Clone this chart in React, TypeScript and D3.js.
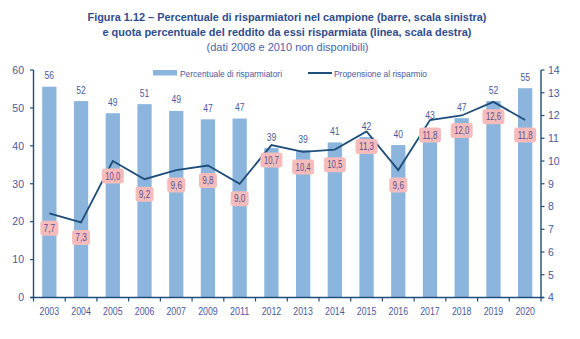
import React from "react";
import * as d3 from "d3";

const years = ["2003","2004","2005","2006","2007","2009","2011","2012","2013","2014","2015","2016","2017","2018","2019","2020"];
const savers = [55.6, 51.8, 48.6, 51.0, 49.2, 47.0, 47.2, 39.4, 38.9, 40.9, 42.3, 40.2, 43.0, 47.3, 51.8, 55.2];
const propensity = [7.7, 7.3, 10.0, 9.2, 9.6, 9.8, 9.0, 10.7, 10.4, 10.5, 11.3, 9.6, 11.8, 12.0, 12.6, 11.8];
const leftTicks = [0, 10, 20, 30, 40, 50, 60];
const rightTicks = [4, 5, 6, 7, 8, 9, 10, 11, 12, 13, 14];
const titleLines = [
  "Figura 1.12 – Percentuale di risparmiatori nel campione (barre, scala sinistra)",
  "e quota percentuale del reddito da essi risparmiata (linea, scala destra)",
];
const subtitle = "(dati 2008 e 2010 non disponibili)";
const legendBar = "Percentuale di risparmiatori";
const legendLine = "Propensione al risparmio";

const W = 580, H = 339;
const X0 = 33.5, X1 = 541, Y0 = 297.5, Y1 = 70;
const BAR = "#8cb5dd";
const NAVY = "#1f4e7a";
const TXT = "#4a5a9c";
const FONT = "Liberation Sans, Arial, sans-serif";

export default function App() {
  const x = d3.scaleBand<string>().domain(years).range([X0, X1]).paddingInner(0.55).paddingOuter(0.275);
  const yL = d3.scaleLinear().domain([0, 60]).range([Y0, Y1]);
  const yR = d3.scaleLinear().domain([4, 14]).range([Y0, Y1]);
  const step = x.step();
  const cx = (y: string) => (x(y) as number) + x.bandwidth() / 2;
  const line = d3.line<number>().x((_, i) => cx(years[i])).y((d) => yR(d));
  const boundaries = d3.range(years.length + 1).map((i) => X0 + i * step);
  const fmt = (v: number) => v.toFixed(1).replace(".", ",");

  return (
    <div style={{ position: "absolute", left: 0, top: 0 }}>
      <svg width={W} height={H} style={{ display: "block", background: "#fff" }} fontFamily={FONT}>
        {/* titles */}
        <text x={287} y={20.5} textAnchor="middle" fontSize={10.6} fontWeight="bold" fill="#2f4c8c" textLength={399} lengthAdjust="spacingAndGlyphs">{titleLines[0]}</text>
        <text x={287} y={36} textAnchor="middle" fontSize={10.6} fontWeight="bold" fill="#2f4c8c" textLength={369} lengthAdjust="spacingAndGlyphs">{titleLines[1]}</text>
        <text x={287.5} y={51} textAnchor="middle" fontSize={10.3} fill="#4a62a8" textLength={162} lengthAdjust="spacingAndGlyphs">{subtitle}</text>

        {/* legend */}
        <rect x={153} y={70} width={24} height={5.5} fill={BAR} />
        <text x={180} y={76.5} fontSize={9.2} fill={TXT} textLength={102} lengthAdjust="spacingAndGlyphs">{legendBar}</text>
        <line x1={308} x2={332} y1={73} y2={73} stroke={NAVY} strokeWidth={2} />
        <text x={334} y={76.5} fontSize={9.2} fill={TXT} textLength={93} lengthAdjust="spacingAndGlyphs">{legendLine}</text>

        {/* bars */}
        {years.map((yr, i) => (
          <rect key={yr} x={x(yr)} y={yL(savers[i])} width={x.bandwidth()} height={Y0 - yL(savers[i])} fill={BAR} />
        ))}

        {/* axes */}
        <line x1={X0} x2={X0} y1={Y1} y2={Y0} stroke={NAVY} strokeWidth={1.4} />
        <line x1={X1} x2={X1} y1={Y1} y2={Y0} stroke={NAVY} strokeWidth={1.4} />
        <line x1={X0 - 3} x2={X1 + 3} y1={Y0} y2={Y0} stroke={NAVY} strokeWidth={1.4} />
        {leftTicks.map((t) => (
          <g key={"l" + t}>
            <line x1={X0 - 3.5} x2={X0} y1={yL(t)} y2={yL(t)} stroke={NAVY} strokeWidth={1.2} />
            <text x={24} y={yL(t) + 3.8} textAnchor="end" fontSize={10.5} fill={TXT}>{t}</text>
          </g>
        ))}
        {rightTicks.map((t) => (
          <g key={"r" + t}>
            <line x1={X1} x2={X1 + 3.5} y1={yR(t)} y2={yR(t)} stroke={NAVY} strokeWidth={1.2} />
            <text x={548} y={yR(t) + 3.8} textAnchor="start" fontSize={10.5} fill={TXT}>{t}</text>
          </g>
        ))}
        {boundaries.map((b, i) => (
          <line key={"b" + i} x1={b} x2={b} y1={Y0} y2={Y0 + 4} stroke={NAVY} strokeWidth={1.2} />
        ))}
        {years.map((yr) => (
          <text key={"x" + yr} x={cx(yr)} y={314.5} textAnchor="middle" fontSize={10} fill={TXT} textLength={19.5} lengthAdjust="spacingAndGlyphs">{yr}</text>
        ))}

        {/* line */}
        <path d={line(propensity) || ""} fill="none" stroke={NAVY} strokeWidth={1.8} />

        {/* bar value labels */}
        {years.map((yr, i) => {
          const ly = Math.min(yL(savers[i]) - 11, yR(propensity[i]) - 5);
          return (
            <text key={"v" + yr} x={cx(yr)} y={ly + 3.5} textAnchor="middle" fontSize={10} fill={TXT} textLength={9.5} lengthAdjust="spacingAndGlyphs">{Math.round(savers[i])}</text>
          );
        })}

        {/* propensity labels */}
        {years.map((yr, i) => {
          const s = fmt(propensity[i]);
          const w = s.length > 3 ? 22 : 18;
          const by = yR(propensity[i]) + 15;
          return (
            <g key={"p" + yr}>
              <rect x={cx(yr) - w / 2} y={by - 7.5} width={w} height={15} rx={3} fill="#f6bcbc" />
              <text x={cx(yr)} y={by + 3.6} textAnchor="middle" fontSize={10} fill="#5a4f8e" textLength={s.length > 3 ? 15 : 11.5} lengthAdjust="spacingAndGlyphs">{s}</text>
            </g>
          );
        })}
      </svg>
    </div>
  );
}
